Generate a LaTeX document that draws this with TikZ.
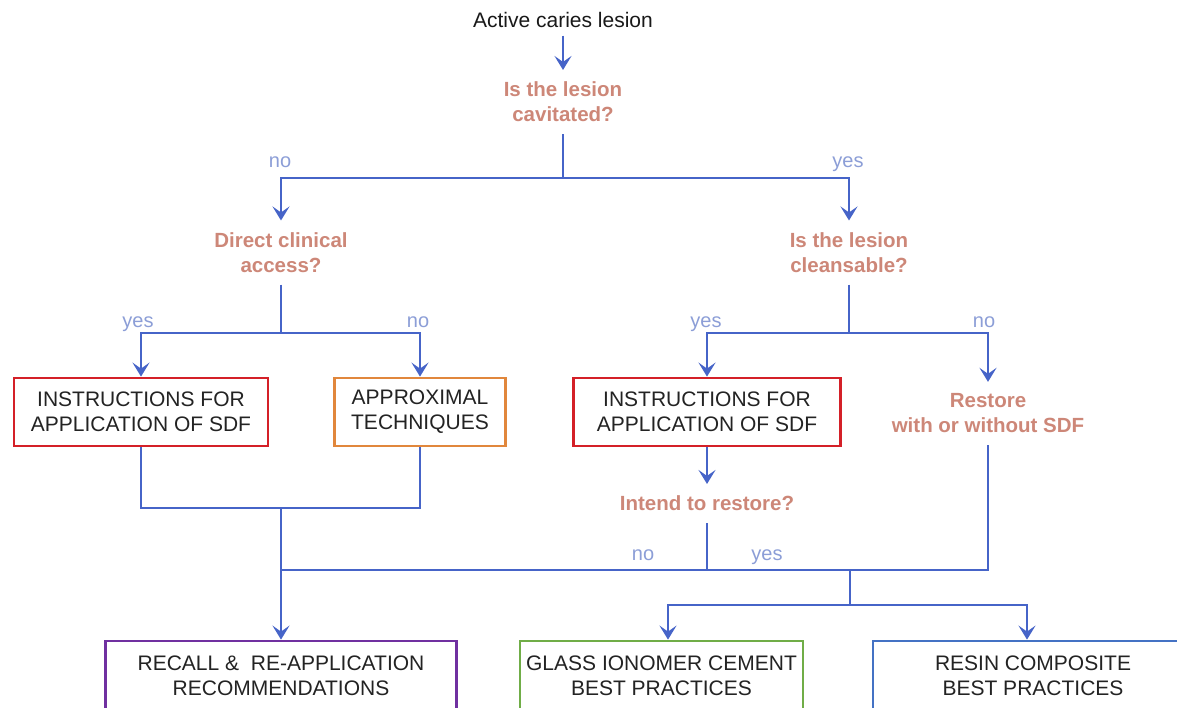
\documentclass[tikz,border=0pt]{standalone}
\usepackage{fontspec}
\setmainfont{Liberation Sans}
\usetikzlibrary{arrows.meta}
\definecolor{conncol}{RGB}{70,100,200}
\definecolor{labcol}{RGB}{140,158,215}
\definecolor{qcol}{RGB}{205,135,120}
\definecolor{boxtext}{RGB}{35,35,35}
\definecolor{bred}{RGB}{212,32,40}
\definecolor{borange}{RGB}{225,135,60}
\definecolor{bpurple}{RGB}{112,48,160}
\definecolor{bgreen}{RGB}{112,173,71}
\definecolor{bblue}{RGB}{68,114,196}
\begin{document}
\begin{tikzpicture}[x=1pt,y=-1pt,
  conn/.style={draw=conncol, line width=2.4pt},
  thinconn/.style={draw=conncol, line width=1.6pt},
  arr/.style={-{Stealth[length=14pt,width=17pt,inset=6pt]}},
  ques/.style={text=qcol, font=\fontsize{20.5}{25}\selectfont\bfseries, align=center, inner sep=0pt, outer sep=12pt},
  lab/.style={text=labcol, font=\fontsize{20}{24}\selectfont, inner sep=0pt, anchor=base},
  box/.style={draw, line width=2.8pt, text=boxtext, font=\fontsize{21}{25}\selectfont, align=center, minimum height=68pt, inner sep=0pt},
]
\useasboundingbox[fill=white] (0,0) rectangle (1177,707);

% texts
\node[font=\fontsize{21}{24}\selectfont, text=black!90, inner sep=0pt, outer sep=8pt] (start) at (563,20) {Active caries lesion};
\node[ques] (q1) at (563,102) {Is the lesion\\cavitated?};
\node[ques] (q2l) at (281,252.5) {Direct clinical\\access?};
\node[ques] (q2r) at (849,252.5) {Is the lesion\\cleansable?};
\node[ques] (restore) at (988,413.5) {Restore\\with or without SDF};
\node[ques] (intend) at (707,503.5) {Intend to restore?};

% boxes
\node[box, draw=bred, minimum width=254pt] (b1) at (141,412) {INSTRUCTIONS FOR\\APPLICATION OF SDF};
\node[box, draw=borange, minimum width=171pt] (b2) at (420,412) {APPROXIMAL\\TECHNIQUES};
\node[box, draw=bred, minimum width=267pt] (b3) at (707,412) {INSTRUCTIONS FOR\\APPLICATION OF SDF};
\node[box, draw=bpurple, minimum width=351pt, minimum height=70pt] (b4) at (281,676) {RECALL \& ~RE-APPLICATION\\RECOMMENDATIONS};
\node[box, draw=bgreen, minimum width=283pt, minimum height=70pt] (b5) at (661.5,676) {GLASS IONOMER CEMENT\\BEST PRACTICES};
\node[box, draw=bblue, minimum width=320pt, minimum height=70pt] (b6) at (1033,676) {RESIN COMPOSITE\\BEST PRACTICES};

% labels
\node[lab] (l1) at (280,167) {no};
\node[lab] (l2) at (848,167) {yes};
\node[lab] (l3) at (138,327) {yes};
\node[lab] (l4) at (418,327) {no};
\node[lab] (l5) at (706,327) {yes};
\node[lab] (l6) at (984,327) {no};
\node[lab] (l7) at (643,560) {no};
\node[lab] (l8) at (767,560) {yes};

% junctions
\coordinate (j1) at (563,178);
\coordinate (j2) at (281,333);
\coordinate (j3) at (849,333);
\coordinate (j4) at (281,508);
\coordinate (j5) at (281,570);
\coordinate (j6) at (850,570);
\coordinate (j7) at (850,605);

% connectors
\draw[conn, arr] (start.south) -- (q1.north);
\draw[conn] (q1.south) -- (j1);
\draw[conn, arr] (j1) -| (q2l.north);
\draw[conn, arr] (j1) -| (q2r.north);

\draw[conn] (q2l.south) -- (j2);
\draw[conn, arr] (j2) -| (b1.north);
\draw[conn, arr] (j2) -| (b2.north);

\draw[conn] (q2r.south) -- (j3);
\draw[conn, arr] (j3) -| (b3.north);
\draw[conn, arr] (j3) -| (restore.north);

\draw[thinconn] (b1.south) -- (b1.south |- j4) -- (b2.south |- j4) -- (b2.south);
\draw[conn, arr] (j4) -- (b4.north);

\draw[conn, arr] (b3.south) -- (intend.north);
\draw[conn] (intend.south) -- (intend.south |- j5);
\draw[thinconn] (j5) -- (restore.south |- j5) -- (restore.south);
\draw[conn] (j6) -- (j7);
\draw[conn, arr] (j7) -| ([xshift=6.5pt]b5.north);
\draw[conn, arr] (j7) -| ([xshift=-6pt]b6.north);
\end{tikzpicture}
\end{document}
